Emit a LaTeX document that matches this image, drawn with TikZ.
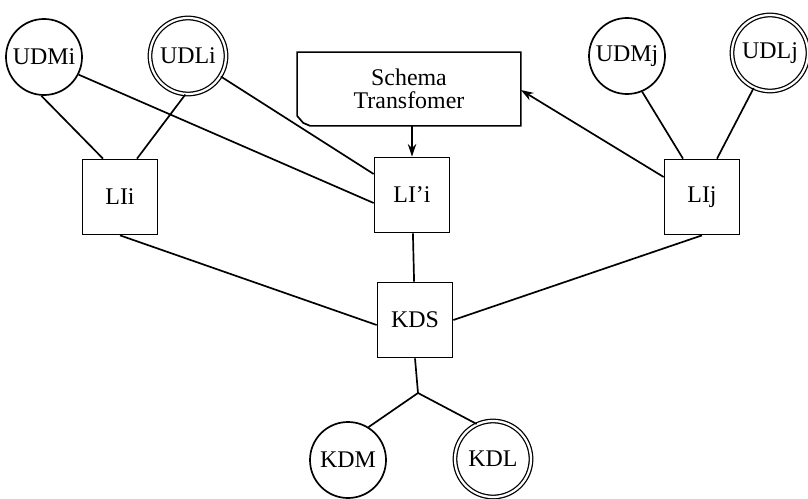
\documentclass[tikz,border=0pt]{standalone}
\usepackage{fontspec}
\setmainfont{Liberation Serif}
\usetikzlibrary{calc,arrows.meta}

\begin{document}
\begin{tikzpicture}[x=0.025cm,y=-0.025cm,line width=1.2pt,
  lbox/.style={draw,minimum size=1.875cm,inner sep=0pt,font=\fontsize{17}{18}\selectfont},
  dm/.style={draw,circle,minimum size=1.9cm,inner sep=0pt,font=\fontsize{17}{18}\selectfont},
  dl/.style={dm,double,line width=0.9pt,double distance=1.6pt},
  >={Stealth[length=9pt,width=6pt]}]

\useasboundingbox (0,0) rectangle (808,499);

% site i
\node[dm] (udmi) at (44,57) {UDMi};
\node[dl] (udli) at (188,56) {UDLi};
\node[lbox] (lii) at (120,197) {LIi};
\node[lbox] (lipi) at (412,195) {LI'i};

% site j
\node[dm] (udmj) at (627,56) {UDMj};
\node[dl] (udlj) at (770,53) {UDLj};
\node[lbox] (lij) at (702,197) {LIj};

% schema transformer (folded corner drawn by hand)
\node[minimum width=5.55cm,minimum height=1.8cm,inner sep=0pt,align=center,
  font=\fontsize{17}{16}\selectfont] (schema) at (409,89) {Schema\\Transfomer};
\draw (schema.south east) -- (schema.north east) -- (schema.north west)
  -- ($(schema.south west)+(0,-10)$) -- ($(schema.south west)+(6,-3)$)
  -- ($(schema.south west)+(13,0)$) -- cycle;

% kernel
\node[lbox] (kds) at (415,320) {KDS};
\node[dm] (kdm) at (348,460) {KDM};
\node[dl] (kdl) at (493,459) {KDL};
\coordinate (fork) at (418,393);

\draw (udmi.-94) -- ($(lii.north)+(-17,0)$);
\draw (udli.-94) -- ($(lii.north)+(17,0)$);
\draw (udmi.-27) -- ($(lipi.west)+(0,8)$);
\draw (udli.-32) -- ($(lipi.west)+(0,-21)$);
\draw (udmj.-67) -- ($(lij.north)+(-19,0)$);
\draw (udlj.-115) -- ($(lij.north)+(15,0)$);

\draw[->] (schema.south -| lipi.north) -- (lipi.north);
\draw[->] ($(lij.west)+(0,-20)$) -- ($(schema.east)+(0,1)$);

\draw (lii.south) -- ($(kds.west)+(0,5)$);
\draw (lij.south) -- (kds.east);
\draw (lipi) -- (kds);
\draw (kds.south) -- (fork);
\draw (fork) -- (kdm.58);
\draw (fork) -- (kdl.115);
\end{tikzpicture}
\end{document}
